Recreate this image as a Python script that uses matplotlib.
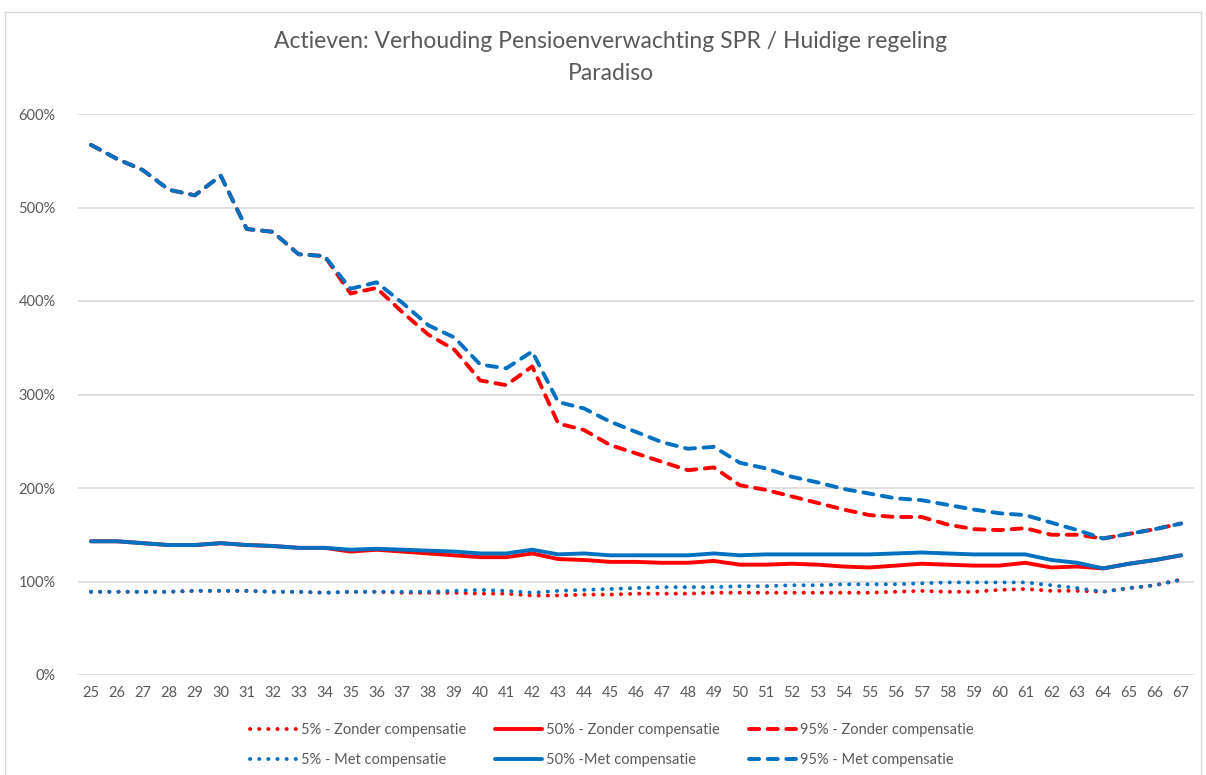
import matplotlib
matplotlib.use("Agg")
import matplotlib.pyplot as plt
from matplotlib.lines import Line2D
from matplotlib.ticker import FuncFormatter

plt.rcParams['font.family'] = ['Lato', 'DejaVu Sans']

# Leeftijden (x-as)
ages = list(range(25, 68))

# 5% - Zonder compensatie
p5_zonder = [89, 89, 89, 89, 90, 90, 90, 89, 89, 88, 89, 89, 88, 88, 88, 87, 87, 85, 85, 86,
             86, 87, 87, 87, 88, 88, 88, 88, 88, 88, 88, 89, 90, 89, 89, 91, 92, 90, 90, 89,
             93, 96, 102]
# 50% - Zonder compensatie
p50_zonder = [143, 143, 141, 139, 139, 141, 139, 138, 136, 136, 132, 134, 132, 130, 128, 126, 126, 130, 124, 123,
              121, 121, 120, 120, 122, 118, 118, 119, 118, 116, 115, 117, 119, 118, 117, 117, 120, 115, 116, 114,
              119, 123, 128]
# 95% - Zonder compensatie
p95_zonder = [567, 552, 540, 519, 513, 534, 477, 474, 450, 448, 408, 414, 388, 364, 348, 315, 310, 330, 269, 262,
              246, 237, 228, 219, 222, 203, 198, 191, 184, 177, 171, 169, 169, 161, 156, 155, 157, 150, 150, 146,
              151, 156, 162]
# 5% - Met compensatie
p5_met = [89, 89, 89, 89, 90, 90, 90, 89, 89, 88, 89, 89, 89, 89, 90, 91, 90, 88, 90, 91,
          92, 93, 94, 94, 94, 95, 95, 96, 96, 97, 97, 97, 98, 99, 99, 99, 99, 96, 93, 89,
          93, 96, 102]
# 50% - Met compensatie
p50_met = [143, 143, 141, 139, 139, 141, 139, 138, 136, 136, 134, 135, 134, 133, 132, 130, 130, 134, 129, 130,
           128, 128, 128, 128, 130, 128, 129, 129, 129, 129, 129, 130, 131, 130, 129, 129, 129, 123, 120, 114,
           119, 123, 128]
# 95% - Met compensatie
p95_met = [567, 552, 540, 519, 513, 534, 477, 474, 450, 448, 413, 420, 398, 374, 361, 332, 328, 346, 292, 285,
           271, 260, 249, 242, 244, 227, 221, 212, 206, 199, 194, 189, 187, 182, 177, 173, 171, 163, 155, 146,
           151, 156, 162]

RED = '#FF0000'
BLUE = '#0070C0'
GREY = '#595959'

fig = plt.figure(figsize=(12.06, 7.75), dpi=100)
W, H = 1206, 775

# lichte rand om de grafiek
for xs, ys in [([5, 5], [12, 780]), ([5, 1201], [12, 12]), ([1201, 1201], [12, 780])]:
    fig.add_artist(Line2D([x / W for x in xs], [1 - y / H for y in ys],
                          color='#D9D9D9', lw=1.0, transform=fig.transFigure))

ax = fig.add_axes([78 / W, 1 - 675 / H, (1194 - 78) / W, (675 - 114) / H])

x = list(range(len(ages)))
lw = 2.8
dot = (0, (0.05, 2.3))
dash = (0, (2.6, 2.2))

series = [
    (p5_zonder, RED, dot, '5% - Zonder compensatie'),
    (p50_zonder, RED, '-', '50% - Zonder compensatie'),
    (p95_zonder, RED, dash, '95% - Zonder compensatie'),
    (p5_met, BLUE, dot, '5% - Met compensatie'),
    (p50_met, BLUE, '-', '50% -Met compensatie'),
    (p95_met, BLUE, dash, '95% - Met compensatie'),
]
lines = {}
for vals, col, ls, lab in series:
    ln, = ax.plot(x, vals, color=col, lw=lw, linestyle=ls, label=lab,
                  dash_capstyle='round', solid_capstyle='round', solid_joinstyle='round')
    lines[lab] = ln

ax.set_xlim(-0.5, len(ages) - 0.5)
ax.set_ylim(0, 600)
ax.set_yticks(range(0, 601, 100))
ax.yaxis.set_major_formatter(FuncFormatter(lambda v, p: f"{int(v)}%"))
ax.set_xticks(x)
ax.set_xticklabels([str(a) for a in ages])
ax.tick_params(axis='both', length=0, labelcolor=GREY, labelsize=10.5)
ax.tick_params(axis='y', pad=16)
ax.tick_params(axis='x', pad=8)
ax.grid(axis='y', color='#D9D9D9', lw=1.2)
ax.set_axisbelow(True)
for s in ['top', 'right', 'left', 'bottom']:
    ax.spines[s].set_visible(False)

fig.text(611 / W, 1 - 42 / H, 'Actieven: Verhouding Pensioenverwachting SPR / Huidige regeling',
         ha='center', va='center', fontsize=16.5, color=GREY)
fig.text(611 / W, 1 - 73 / H, 'Paradiso', ha='center', va='center', fontsize=16.5, color=GREY)

order = ['5% - Zonder compensatie', '5% - Met compensatie',
         '50% - Zonder compensatie', '50% -Met compensatie',
         '95% - Zonder compensatie', '95% - Met compensatie']
fig.legend([lines[k] for k in order], order, ncol=3, loc='center',
           bbox_to_anchor=(612 / W, 1 - 745 / H), frameon=False, fontsize=10.5,
           labelcolor=GREY, handlelength=3.2, handletextpad=0.3, columnspacing=2.0,
           labelspacing=1.05)

fig.savefig('out.png', dpi=100)
